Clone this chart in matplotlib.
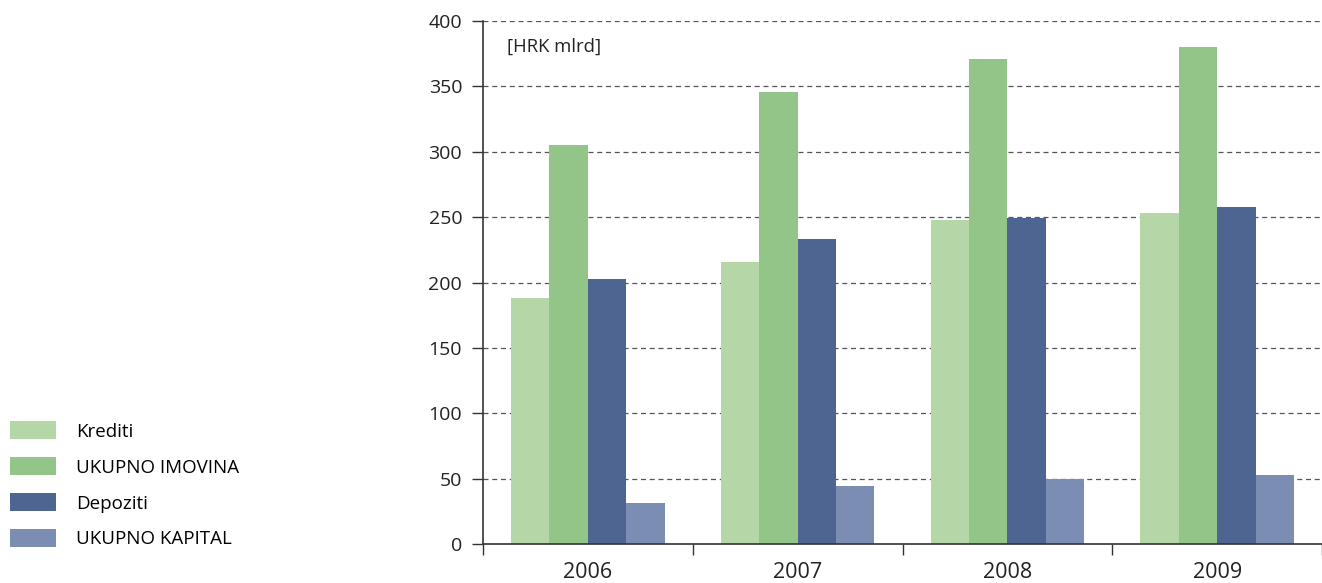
import numpy as np
import matplotlib
matplotlib.use("Agg")
import matplotlib.pyplot as plt
from matplotlib.patches import Patch

plt.rcParams["font.family"] = ["Open Sans", "DejaVu Sans"]

YEARS = ["2006", "2007", "2008", "2009"]
KREDITI = [188, 216, 248, 253]
IMOVINA = [305, 346, 371, 380]
DEPOZITI = [203, 233, 249, 258]
KAPITAL = [31, 44, 50, 53]

LABELS = ["Krediti", "UKUPNO IMOVINA", "Depoziti", "UKUPNO KAPITAL"]
COLORS = ["#b5d7a8", "#92c587", "#4e6591", "#7b8db3"]

fig = plt.figure(figsize=(13.22, 5.83), dpi=100)
ax = fig.add_axes([483 / 1322, 39 / 583, 1 - 483 / 1322, 523 / 583])

x = np.arange(len(YEARS))
w = 0.183
series = [KREDITI, IMOVINA, DEPOZITI, KAPITAL]
for i, (vals, col) in enumerate(zip(series, COLORS)):
    ax.bar(x + (i - 1.5) * w, vals, width=w, color=col, edgecolor="none", zorder=2)

ax.set_xlim(-0.5, len(YEARS) - 0.5)
ax.set_ylim(0, 400)
ax.set_yticks(np.arange(0, 401, 50))
for v in range(50, 401, 50):
    ax.axhline(v, color="#555555", lw=0.9, ls=(0, (4, 3)), zorder=1)

# category boundaries as tick marks, year labels in between
ax.set_xticks(np.arange(-0.5, len(YEARS), 1.0))
ax.set_xticklabels([])
ax.set_xticks(x, minor=True)
ax.set_xticklabels(YEARS, minor=True, fontsize=15.5, color="#222222")
ax.tick_params(axis="x", which="major", direction="out", length=8, width=1, color="#333333")
ax.tick_params(axis="x", which="minor", length=0, pad=13)
ax.tick_params(axis="y", direction="out", length=8, width=1, color="#333333",
               labelsize=14, labelcolor="#222222", pad=7)

for s in ("top", "right"):
    ax.spines[s].set_visible(False)
ax.spines["left"].set_color("#333333")
ax.spines["bottom"].set_color("#333333")
ax.spines["left"].set_linewidth(1.2)
ax.spines["bottom"].set_linewidth(1.2)

ax.text(0.029, 0.95, "[HRK mlrd]", transform=ax.transAxes, fontsize=13.3,
        color="#222222", va="center")

handles = [Patch(facecolor=c, edgecolor="none") for c in COLORS]
fig.legend(handles, LABELS, loc="upper left", bbox_to_anchor=(0.002, 0.29),
           frameon=False, fontsize=13.5, handlelength=2.45, handleheight=1.1,
           labelspacing=0.88, handletextpad=1.05, borderaxespad=0)

fig.savefig("out.png", dpi=100)
